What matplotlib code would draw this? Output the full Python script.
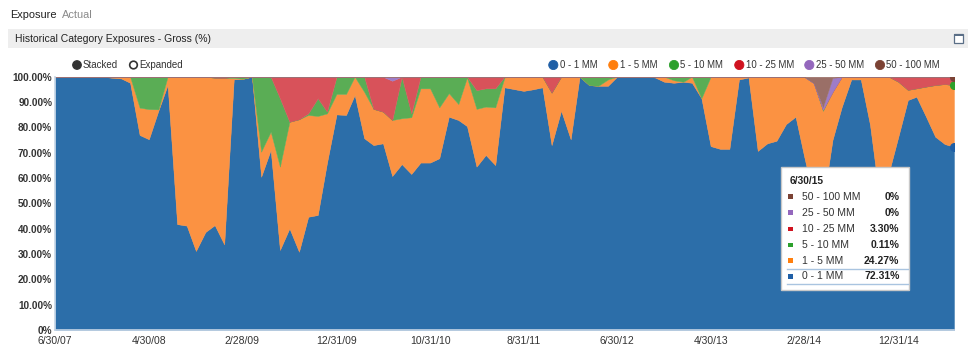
import matplotlib
matplotlib.use('Agg')
import matplotlib.pyplot as plt
import pandas as pd
from matplotlib.patches import Rectangle, Circle
import matplotlib.dates as mdates

plt.rcParams['font.family'] = ['Liberation Sans', 'DejaVu Sans']

# ---------------- data ----------------
dates = pd.date_range('2007-06-30', '2015-06-30', freq='ME')
series_names = ['0 - 1 MM', '1 - 5 MM', '5 - 10 MM', '10 - 25 MM', '25 - 50 MM', '50 - 100 MM']

s_0_1 = [100, 100, 100, 100, 100, 100, 99.6, 99.3, 97.6, 77.0,
         75.3, 86.6, 96.7, 41.8, 41.2, 31.2, 38.7, 41.4, 33.8, 99.0,
         99.1, 100, 60.5, 71.1, 31.6, 40.1, 30.9, 44.7, 45.4, 66.0,
         85.1, 84.9, 92.8, 75.7, 73.0, 73.7, 60.8, 65.5, 61.6, 66.1,
         66.1, 67.8, 84.2, 82.9, 80.5, 64.5, 69.1, 65.1, 95.8, 95.1,
         94.4, 95.0, 95.8, 73.0, 86.6, 75.3, 100, 96.7, 96.4, 96.4,
         100, 100, 100, 100, 99.7, 98.0, 97.6, 98.0, 97.6, 91.5,
         72.6, 71.5, 71.5, 98.9, 99.7, 70.7, 73.7, 74.7, 81.3, 84.2,
         68.5, 52.0, 50.0, 75.0, 88.0, 98.9, 98.9, 81.0, 52.0, 62.0,
         76.3, 90.8, 92.1, 84.2, 76.3, 73.4, 72.31]

s_1_5 = [0, 0, 0, 0, 0, 0, 0.4, 0.7, 2.4, 10.8,
         11.9, 0.5, 3.3, 58.2, 58.8, 68.8, 61.3, 58.2, 65.7, 0.5,
         0.1, 0, 9.9, 7.2, 32.9, 42.1, 52.3, 40.2, 39.1, 19.5,
         8.1, 8.3, 7.2, 18.3, 14.3, 12.5, 22.1, 18.1, 22.4, 29.3,
         29.3, 20.1, 9.3, 6.3, 19.2, 22.8, 19.1, 22.8, 3.9, 4.9,
         5.6, 5.0, 4.2, 20.7, 13.4, 24.7, 0, 0, 0, 2.5,
         0, 0, 0, 0, 0.3, 2.0, 1.0, 0, 2.4, 0,
         27.4, 28.5, 28.5, 1.1, 0.3, 29.3, 26.3, 25.3, 18.7, 15.8,
         31.5, 45.5, 36.5, 19.0, 12.0, 1.1, 1.1, 19.0, 48.0, 38.0,
         21.7, 4.0, 3.3, 11.9, 20.4, 23.7, 24.27]

s_5_10 = [0, 0, 0, 0, 0, 0, 0, 0, 0, 12.2,
          12.8, 12.9, 0, 0, 0, 0, 0, 0, 0, 0.5,
          0.8, 0, 29.6, 21.7, 27.0, 0, 0, 0.6, 7.0, 0.7,
          6.8, 6.8, 0, 6.0, 0, 0, 0, 16.4, 1.5, 4.6,
          4.6, 12.1, 6.5, 10.8, 0.3, 7.4, 7.2, 7.5, 0.3, 0,
          0, 0, 0, 0, 0, 0, 0, 3.3, 3.6, 1.1,
          0, 0, 0, 0, 0, 0, 1.4, 2.0, 0, 8.5,
          0, 0, 0, 0, 0, 0, 0, 0, 0, 0,
          0, 0, 0.5, 0, 0, 0, 0, 0, 0, 0,
          0, 0, 0, 0, 0, 0, 0.11]

s_10_25 = [0, 0, 0, 0, 0, 0, 0, 0, 0, 0,
           0, 0, 0, 0, 0, 0, 0, 0.4, 0.5, 0,
           0, 0, 0, 0, 8.5, 17.8, 16.8, 14.5, 8.5, 13.8,
           0, 0, 0, 0, 12.7, 13.8, 15.5, 0, 14.5, 0,
           0, 0, 0, 0, 0, 5.3, 4.6, 4.6, 0, 0,
           0, 0, 0, 6.3, 0, 0, 0, 0, 0, 0,
           0, 0, 0, 0, 0, 0, 0, 0, 0, 0,
           0, 0, 0, 0, 0, 0, 0, 0, 0, 0,
           0, 0, 0, 0, 0, 0, 0, 0, 0, 0,
           2.0, 5.2, 4.6, 3.9, 3.3, 2.9, 3.30]

s_25_50 = [0, 0, 0, 0, 0, 0, 0, 0, 0, 0,
           0, 0, 0, 0, 0, 0, 0, 0, 0, 0,
           0, 0, 0, 0, 0, 0, 0, 0, 0, 0,
           0, 0, 0, 0, 0, 0, 1.6, 0, 0, 0,
           0, 0, 0, 0, 0, 0, 0, 0, 0, 0,
           0, 0, 0, 0, 0, 0, 0, 0, 0, 0,
           0, 0, 0, 0, 0, 0, 0, 0, 0, 0,
           0, 0, 0, 0, 0, 0, 0, 0, 0, 0,
           0, 0, 1.0, 5.5, 0, 0, 0, 0, 0, 0,
           0, 0, 0, 0, 0, 0, 0]

s_50_100 = [0, 0, 0, 0, 0, 0, 0, 0, 0, 0,
            0, 0, 0, 0, 0, 0, 0, 0, 0, 0,
            0, 0, 0, 0, 0, 0, 0, 0, 0, 0,
            0, 0, 0, 0, 0, 0, 0, 0, 0, 0,
            0, 0, 0, 0, 0, 0, 0, 0, 0, 0,
            0, 0, 0, 0, 0, 0, 0, 0, 0, 0,
            0, 0, 0, 0, 0, 0, 0, 0, 0, 0,
            0, 0, 0, 0, 0, 0, 0, 0, 0, 0,
            0, 2.5, 12.0, 0.5, 0, 0, 0, 0, 0, 0,
            0, 0, 0, 0, 0, 0, 0]

y_ticks = [0, 10, 20, 30, 40, 50, 60, 70, 80, 90, 100]
y_tick_labels = ['0%', '10.00%', '20.00%', '30.00%', '40.00%', '50.00%',
                 '60.00%', '70.00%', '80.00%', '90.00%', '100.00%']
x_tick_labels = ['6/30/07', '4/30/08', '2/28/09', '12/31/09', '10/31/10',
                 '8/31/11', '6/30/12', '4/30/13', '2/28/14', '12/31/14']

tooltip_date = '6/30/15'
tooltip_labels = ['50 - 100 MM', '25 - 50 MM', '10 - 25 MM', '5 - 10 MM', '1 - 5 MM', '0 - 1 MM']
tooltip_values = ['0%', '0%', '3.30%', '0.11%', '24.27%', '72.31%']

# ---------------- style ----------------
legend_colors = ['#1f5fa6', '#ff7f0e', '#2ca02c', '#d0121f', '#9467bd', '#7b4234']
area_colors = ['#2c6ea9', '#fb9242', '#5aad55', '#d8525a', '#9e7cc8', '#9a6f67']
W, H = 975, 360
TXT = '#333333'

fig = plt.figure(figsize=(W / 100, H / 100), dpi=100)
fig.patch.set_facecolor('white')

def fx(x):
    return x / W

def fy(y):
    return 1 - y / H

# main plot axes
x0, x1, yt, yb = 55, 954, 76.7, 330
ax = fig.add_axes([fx(x0), fy(yb), fx(x1) - fx(x0), fy(yt) - fy(yb)])
series = [s_0_1, s_1_5, s_5_10, s_10_25, s_25_50, s_50_100]
ax.stackplot(dates, *series, colors=area_colors, linewidth=0.3,
             edgecolor='face', antialiased=True)
ax.set_xlim(dates[0], dates[-1])
ax.set_ylim(0, 100)
ax.set_yticks(y_ticks)
ax.set_yticklabels(y_tick_labels, fontsize=7.2, fontweight='bold', color=TXT)
ax.set_xticks(dates[::10])
ax.set_xticklabels(x_tick_labels, fontsize=7.5, color=TXT)
ax.tick_params(axis='both', length=0, pad=2)
ax.tick_params(axis='x', pad=4)
for sp in ['top', 'right']:
    ax.spines[sp].set_visible(False)
for sp in ['left', 'bottom']:
    ax.spines[sp].set_color('#c5d5e6')
    ax.spines[sp].set_linewidth(1.2)

# hover markers at the last point
cum = 0
for s, c in zip(series, legend_colors):
    cum += s[-1]
    ax.plot([dates[-1]], [min(cum, 100)], 'o', color=c, markersize=5.5,
            clip_on=True, zorder=5)

# overlay axes in pixel coordinates
ov = fig.add_axes([0, 0, 1, 1], zorder=10)
ov.set_xlim(0, W)
ov.set_ylim(H, 0)
ov.axis('off')
ov.patch.set_alpha(0)

# header
ov.text(10, 15, 'Exposure', fontsize=7.9, color='#222222', va='center', ha='left')
ov.text(62, 15, 'Actual', fontsize=7.9, color='#8a8a8a', va='center', ha='left')

# title bar
ov.add_patch(Rectangle((8, 29), 960, 19, facecolor='#eeeeee', edgecolor='none'))
ov.text(15, 38.5, 'Historical Category Exposures - Gross (%)', fontsize=7.5,
        color='#222222', va='center', ha='left')
ov.add_patch(Rectangle((954, 33.5), 9, 9, facecolor='white', edgecolor='#5a6e86', linewidth=0.9))
ov.add_patch(Rectangle((954, 33.5), 9, 2, facecolor='#5a6e86', edgecolor='none'))

# stacked / expanded controls
ov.add_patch(Circle((77, 65), 4.3, facecolor='#333333', edgecolor='#333333', linewidth=0.8))
ov.text(83, 65, 'Stacked', fontsize=7.0, color=TXT, va='center', ha='left')
ov.add_patch(Circle((133.5, 65), 3.8, facecolor='white', edgecolor='#333333', linewidth=1.2))
ov.text(139, 65, 'Expanded', fontsize=7.0, color=TXT, va='center', ha='left')

# legend
legend_x = [553.3, 613.3, 674.0, 739.3, 809.3, 880.0]
for name, c, lx in zip(series_names, legend_colors, legend_x):
    ov.add_patch(Circle((lx, 65), 4.6, facecolor=c, edgecolor=c, linewidth=0.6))
    ov.text(lx + 6.5, 65, name, fontsize=6.9, color=TXT, va='center', ha='left')

# tooltip
tx0, ty0, tx1, ty1 = 781, 167, 909, 290
ov.add_patch(Rectangle((tx0, ty0), tx1 - tx0, ty1 - ty0, facecolor='white',
                       edgecolor='#c8c8c8', linewidth=1.0, zorder=20))
ov.text(790, 181.5, tooltip_date, fontsize=7.3, fontweight='bold', color='#222222',
        va='center', ha='left', zorder=21)
row_y = [196.7, 212.7, 229.0, 245.0, 260.7, 276.3]
tip_colors = legend_colors[::-1]
for yy, lab, val, c in zip(row_y, tooltip_labels, tooltip_values, tip_colors):
    ov.add_patch(Rectangle((787.8, yy - 2.4), 4.8, 4.8, facecolor=c, edgecolor='none', zorder=21))
    ov.text(802, yy, lab, fontsize=7.5, color=TXT, va='center', ha='left', zorder=21)
    ov.text(899.5, yy, val, fontsize=7.5, fontweight='bold', color='#222222',
            va='center', ha='right', zorder=21)
ov.plot([786.5, 907.5], [268.6, 268.6], color='#a9c4e0', linewidth=1.0, zorder=21)
ov.plot([786.5, 907.5], [284.4, 284.4], color='#a9c4e0', linewidth=1.0, zorder=21)

fig.savefig('out.png', dpi=100, facecolor='white')
